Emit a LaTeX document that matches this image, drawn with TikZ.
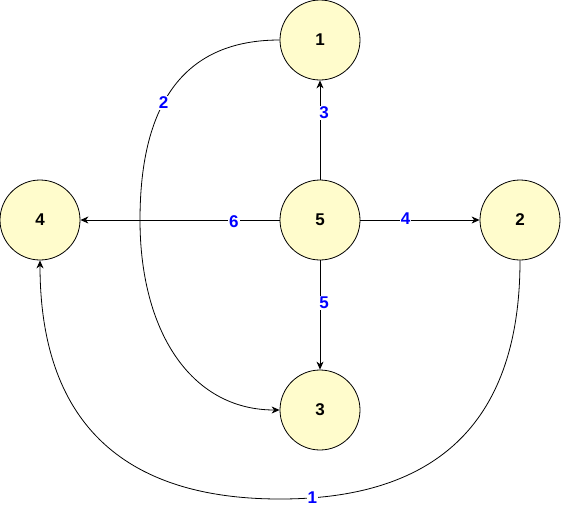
\documentclass[tikz,border=0pt]{standalone}
\usepackage{fontspec}
\setmainfont{Liberation Sans}
\usetikzlibrary{arrows.meta}

\begin{document}
\begin{tikzpicture}[x=1pt, y=-1pt,
    vertex/.style={circle, draw, fill=yellow!20, line width=0.8pt, minimum size=80pt, inner sep=0pt, font=\fontsize{17}{17}\selectfont\bfseries},
    edge/.style={line width=0.8pt, -{Stealth[length=8pt,width=7pt,inset=2.5pt]}},
    weight/.style={text=blue, fill=white, inner sep=1pt, font=\fontsize{17}{17}\selectfont\bfseries}]
    \useasboundingbox (0,0) rectangle (561,509);

    % vertices
    \node[vertex] (v1) at (320,40) {1};
    \node[vertex] (v2) at (520,220) {2};
    \node[vertex] (v3) at (320,410) {3};
    \node[vertex] (v4) at (40,220) {4};
    \node[vertex] (v5) at (320,220) {5};

    % straight edges out of 5
    \draw[edge] (v5) -- node[weight, pos=0.67, xshift=4pt] {3} (v1);
    \draw[edge] (v5) -- node[weight, pos=0.23, yshift=-2pt] {6} (v4);
    \draw[edge] (v5) -- node[weight, pos=0.38, yshift=1pt] {4} (v2);
    \draw[edge] (v5) -- node[weight, pos=0.39, xshift=4pt] {5} (v3);

    % curved edges
    \coordinate (bendA) at (140,220);
    \draw[edge] (v1.west) .. controls (186.7,40) and (140,100) .. (bendA) node[weight, pos=0.59] {2}
        .. controls (140,330) and (190,410) .. (v3.west);
    \coordinate (bendB) at (280,499);
    \draw[edge] (v2.south) .. controls (520,419.3) and (440,499) .. (bendB) node[weight, pos=0.93] {1}
        .. controls (120,499) and (40,419.3) .. (v4.south);
\end{tikzpicture}
\end{document}
